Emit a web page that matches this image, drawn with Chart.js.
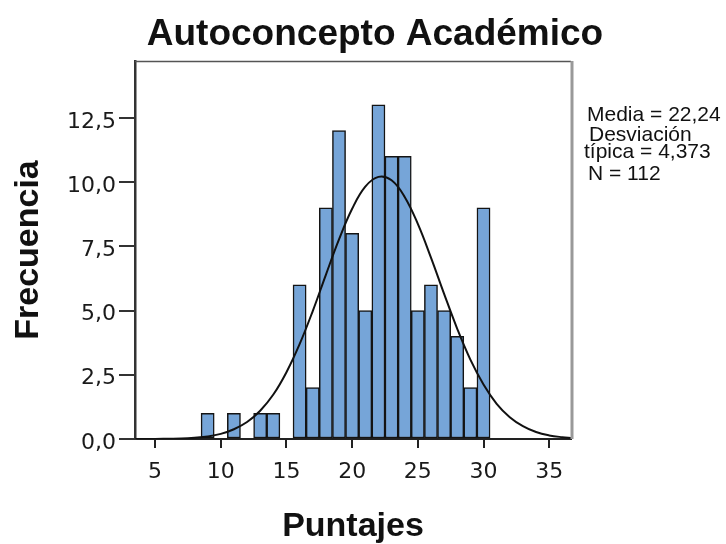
<!DOCTYPE html>
<html>
<head>
<meta charset="utf-8">
<script src="https://cdn.jsdelivr.net/npm/chart.js@4"></script>
<style>
  html, body { margin: 0; padding: 0; background: #fff; }
</style>
</head>
<body>
<canvas id="hist" width="726" height="544"></canvas>
<script>
// Datos del histograma
const puntajes = [9, 11, 13, 14, 16, 17, 18, 19, 20, 21, 22, 23, 24, 25, 26, 27, 28, 29, 30];
const frecuencias = [1, 1, 1, 1, 6, 2, 9, 12, 8, 5, 13, 11, 11, 5, 6, 5, 4, 2, 9];

// Curva normal superpuesta (valores leidos punto a punto)
const curvaX = [3.5, 5, 6, 7, 8, 9, 10, 11, 12, 13, 14, 15, 16, 17, 18, 19, 20, 21, 22, 23, 24, 25, 26, 27, 28, 29, 30, 31, 32, 33, 34, 35, 36, 36.7];
const curvaY = [0.00, 0.00, 0.01, 0.02, 0.05, 0.10, 0.20, 0.38, 0.66, 1.10, 1.73, 2.60, 3.69, 4.98, 6.39, 7.77, 8.96, 9.82, 10.20, 10.07, 9.42, 8.37, 7.06, 5.65, 4.29, 3.09, 2.12, 1.37, 0.85, 0.50, 0.27, 0.14, 0.07, 0.04];

const ticksX = [5, 10, 15, 20, 25, 30, 35];
const ticksY = [0, 2.5, 5, 7.5, 10, 12.5];

const titulo = "Autoconcepto Académico";
const estadisticos = ["Media = 22,24", "Desviación", "típica = 4,373", "N = 112"];

const coma = v => v.toFixed(1).replace(".", ",");

// titulo, marco y estadisticos
const textos = {
  id: "textos",
  afterDraw(chart) {
    const ctx = chart.ctx;
    const a = chart.chartArea;
    ctx.save();
    // marco superior y derecho
    ctx.strokeStyle = "#555";
    ctx.lineWidth = 1.5;
    ctx.beginPath();
    ctx.moveTo(a.left, a.top + 0.5);
    ctx.lineTo(a.right, a.top + 0.5);
    ctx.stroke();
    ctx.strokeStyle = "#999";
    ctx.lineWidth = 3;
    ctx.beginPath();
    ctx.moveTo(a.right + 1, a.top);
    ctx.lineTo(a.right + 1, a.bottom);
    ctx.stroke();

    ctx.fillStyle = "#111";
    ctx.textBaseline = "alphabetic";
    ctx.textAlign = "center";
    ctx.font = "bold 37px 'Liberation Sans', Arial, sans-serif";
    ctx.fillText(titulo, 375, 45);

    ctx.textAlign = "left";
    ctx.font = "21px 'Liberation Sans', Arial, sans-serif";
    const xs = [587, 589, 584, 588];
    const ys = [121, 141, 158, 180];
    estadisticos.forEach((t, i) => ctx.fillText(t, xs[i], ys[i]));
    ctx.restore();
  }
};

new Chart(document.getElementById("hist"), {
  type: "bar",
  data: {
    datasets: [
      {
        type: "line",
        data: curvaX.map((x, i) => ({ x: x, y: curvaY[i] })),
        borderColor: "#111",
        borderWidth: 2,
        pointRadius: 0,
        tension: 0.4,
        fill: false
      },
      {
        type: "bar",
        data: puntajes.map((x, i) => ({ x: x, y: frecuencias[i] })),
        backgroundColor: "#76a5d8",
        borderColor: "#141414",
        borderWidth: 1.5,
        borderSkipped: false,
        barPercentage: 1,
        categoryPercentage: 1
      }
    ]
  },
  options: {
    responsive: false,
    animation: false,
    layout: { padding: { top: 61, right: 155, bottom: 0, left: 0 } },
    plugins: { legend: { display: false }, tooltip: { enabled: false } },
    scales: {
      x: {
        type: "linear",
        offset: false,
        min: 3.47,
        max: 36.66,
        afterFit: s => { s.height = 105; },
        afterBuildTicks: s => { s.ticks = ticksX.map(v => ({ value: v })); },
        grid: { offset: false, drawOnChartArea: false, tickLength: 9, color: "#222", lineWidth: 2 },
        border: { color: "#222", width: 2 },
        ticks: {
          padding: 11,
          color: "#1a1a1a",
          font: { family: "'DejaVu Sans'", size: 22 },
          maxRotation: 0
        },
        title: {
          display: true,
          text: "Puntajes",
          color: "#111",
          font: { family: "'Liberation Sans'", size: 34, weight: "bold", lineHeight: 1 },
          padding: { top: 0, bottom: 0 }
        }
      },
      y: {
        min: 0,
        max: 14.71,
        afterFit: s => { s.width = 135; },
        afterBuildTicks: s => { s.ticks = ticksY.map(v => ({ value: v })); },
        grid: { drawOnChartArea: false, tickLength: 16, color: "#333", lineWidth: 2 },
        border: { color: "#333", width: 2.5 },
        ticks: {
          padding: 3,
          labelOffset: 4,
          color: "#1a1a1a",
          font: { family: "'DejaVu Sans'", size: 22 },
          callback: v => coma(v)
        },
        title: {
          display: true,
          text: "Frecuencia",
          color: "#111",
          font: { family: "'Liberation Sans'", size: 34, weight: "bold", lineHeight: 1 },
          padding: { top: 12, bottom: 0 }
        }
      }
    }
  },
  plugins: [textos]
});
</script>
</body>
</html>
